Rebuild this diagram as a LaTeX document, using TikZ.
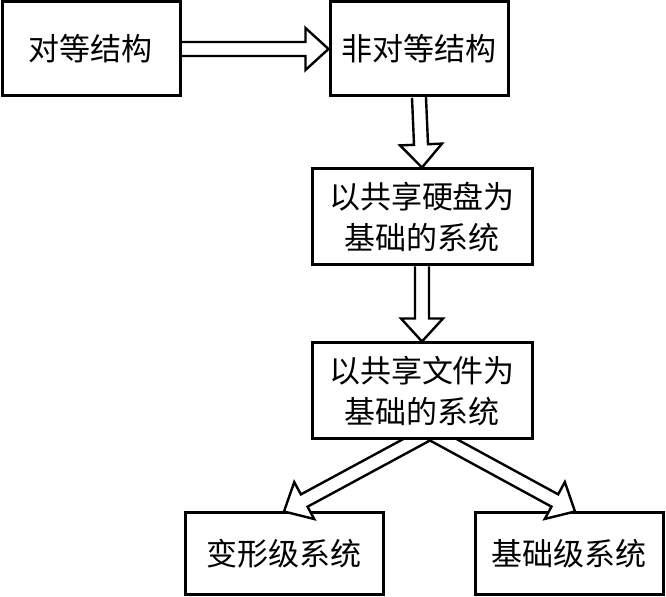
\documentclass[tikz,border=0pt]{standalone}
\usepackage{fontspec}
\newfontfamily\cjk{Noto Sans CJK SC}
\usetikzlibrary{calc,backgrounds}

\tikzset{
  box/.style={draw, line width=1.5pt, fill=white, align=center, inner sep=0pt,
    font=\cjk\fontsize{15.5}{20.5}\selectfont},
  hollow/.style={draw, line width=1.2pt, fill=white, line join=miter},
}
% hollow block arrow from #1 to #2
\newcommand{\hollowarrow}[2]{%
  \coordinate (base) at ($(#2)!11.5pt!(#1)$);
  \path[hollow]($(#1)!3.5pt!90:(#2)$)--($(base)!3.5pt!90:(#2)$)--($(base)!10.5pt!90:(#2)$)--(#2)
    --($(base)!10.5pt!-90:(#2)$)--($(base)!3.5pt!-90:(#2)$)--($(#1)!3.5pt!-90:(#2)$);}

\begin{document}
\begin{tikzpicture}[x=0.5pt, y=-0.5pt]
    \useasboundingbox (0,0) rectangle (666,597);
    % boxes
    \node[box, minimum width=89pt, minimum height=47pt](peer)at(91,49){对等结构};
    \node[box, minimum width=89pt, minimum height=47pt](nonpeer)at(419,49){非对等结构};
    \node[box, minimum width=110pt, minimum height=48pt](disk)at(422,217){以共享硬盘为\\基础的系统};
    \node[box, minimum width=110pt, minimum height=48pt](file)at(422,391){以共享文件为\\基础的系统};
    % arrows
    \begin{scope}[on background layer]
    \hollowarrow{peer.east}{nonpeer.west}
    \hollowarrow{nonpeer.south}{disk.north}
    \hollowarrow{disk.south}{file.north}
    % lower boxes, the two arrows part at the apex
    \node[box, minimum width=99pt, minimum height=41pt](variant)at(284,554){变形级系统};
    \node[box, minimum width=94pt, minimum height=41pt](basic)at(569,554){基础级系统};
    \coordinate(apex)at($(file.south)+(8,0)$);
    \coordinate(btip)at($(basic.north)+(6,0)$);
    \coordinate(vref)at($(apex)!3.5pt!-90:(variant.north)$);
    \coordinate(bref)at($(apex)!3.5pt!90:(btip)$);
    \coordinate(vstart)at($(vref)!-0.3!(variant.north)$);
    \coordinate(bstart)at($(bref)!-0.3!(btip)$);
    \hollowarrow{vstart}{variant.north}
    \hollowarrow{bstart}{btip}
    \end{scope}
\end{tikzpicture}
\end{document}
